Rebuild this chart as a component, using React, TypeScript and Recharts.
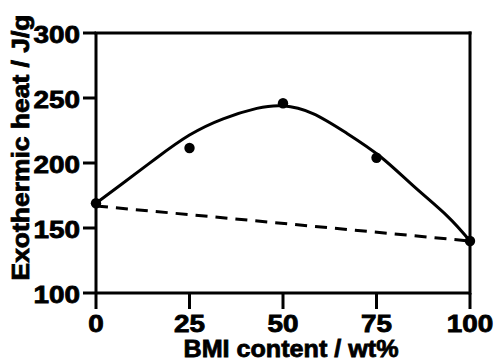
import { ComposedChart, Line, Scatter, XAxis, YAxis, ZAxis, ReferenceLine } from "recharts"

// measured points
const bmiContent = [0, 25, 50, 75, 100]
const heatMeasured = [169, 211.5, 246, 204, 140]

// fitted curve
const fitX = [0, 7, 16, 25, 34, 43, 50, 58, 67, 76, 85, 94, 100]
const fitY = [169, 184, 203.5, 221.5, 234, 242, 244, 238, 223, 205, 182, 159, 140]

// dashed reference line (linear mixing)
const dashX = [0, 100]
const dashY = [167, 140]

const xTicks = [0, 25, 50, 75, 100]
const yTicks = [100, 150, 200, 250, 300]

const points = bmiContent.map((x, i) => ({ x, y: heatMeasured[i] }))
const fit = fitX.map((x, i) => ({ x, y: fitY[i] }))
const dash = dashX.map((x, i) => ({ x, y: dashY[i] }))

const font = "Liberation Sans, Arial, sans-serif"
const axisLine = { stroke: "#000", strokeWidth: 3 }
const heavy = { fill: "#000", stroke: "#000", strokeWidth: 0.8, fontWeight: 700, fontFamily: font }

// the original font is a wide bold grotesque, so glyphs are stretched a little
const digitWidth = 15.5

const XTick = ({ x, y, payload }: any) => {
  const s = String(payload.value)
  return (
    <text
      x={x}
      y={y}
      dy={15}
      textAnchor="middle"
      fontSize={23}
      textLength={s.length * digitWidth}
      lengthAdjust="spacingAndGlyphs"
      style={heavy}
    >
      {s}
    </text>
  )
}

const YTick = ({ x, y, payload }: any) => {
  const s = String(payload.value)
  return (
    <text
      x={x}
      y={y}
      dy={10}
      textAnchor="end"
      fontSize={23}
      textLength={s.length * digitWidth}
      lengthAdjust="spacingAndGlyphs"
      style={heavy}
    >
      {s}
    </text>
  )
}

export default function App() {
  return (
    <div style={{ position: "absolute", left: 0, top: 0, width: 494, height: 360, background: "#fff" }}>
      <ComposedChart width={494} height={360} margin={{ top: 33, right: 24, bottom: 0, left: 0 }}>
        <XAxis
          type="number"
          dataKey="x"
          domain={[0, 100]}
          ticks={xTicks}
          height={67}
          tickSize={16}
          tickMargin={8}
          axisLine={axisLine}
          tickLine={axisLine}
          tick={<XTick />}
          label={{
            content: ({ viewBox }: any) => (
              <text
                x={viewBox.x + viewBox.width / 2 + 8}
                y={viewBox.y + 64}
                textAnchor="middle"
                fontSize={24}
                textLength={215}
                lengthAdjust="spacingAndGlyphs"
                style={heavy}
              >
                BMI content / wt%
              </text>
            ),
          }}
        />
        <YAxis
          type="number"
          dataKey="y"
          domain={[100, 300]}
          ticks={yTicks}
          width={96}
          tickSize={13}
          tickMargin={3}
          axisLine={axisLine}
          tickLine={axisLine}
          tick={<YTick />}
          label={{
            content: ({ viewBox }: any) => {
              const cx = viewBox.x + 29
              const cy = viewBox.y + viewBox.height / 2 - 15.5
              return (
                <text
                  x={cx}
                  y={cy}
                  transform={`rotate(-90, ${cx}, ${cy})`}
                  textAnchor="middle"
                  fontSize={23}
                  textLength={266}
                  lengthAdjust="spacingAndGlyphs"
                  style={heavy}
                >
                  Exothermic heat / J/g
                </text>
              )
            },
          }}
        />
        <ZAxis range={[85, 85]} />
        <ReferenceLine y={300} stroke="#000" strokeWidth={3} strokeLinecap="square" />
        <ReferenceLine x={100} stroke="#000" strokeWidth={3} strokeLinecap="square" />
        <Line
          data={dash}
          dataKey="y"
          type="linear"
          stroke="#000"
          strokeWidth={3}
          strokeDasharray="12 8"
          dot={false}
          isAnimationActive={false}
        />
        <Line
          data={fit}
          dataKey="y"
          type="natural"
          stroke="#000"
          strokeWidth={3}
          dot={false}
          isAnimationActive={false}
        />
        <Scatter data={points} fill="#000" isAnimationActive={false} />
      </ComposedChart>
    </div>
  )
}
